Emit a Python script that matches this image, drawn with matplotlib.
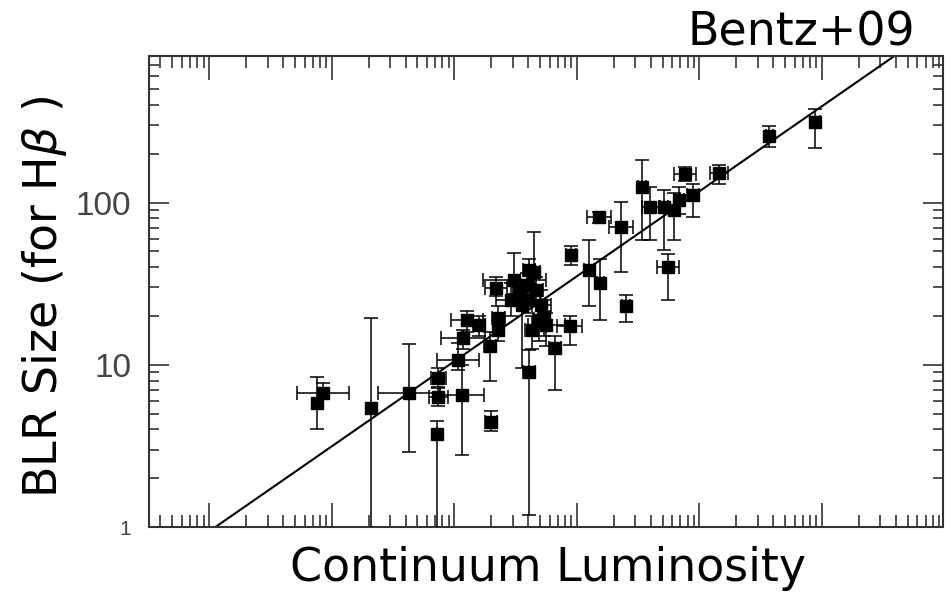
import numpy as np
import matplotlib
matplotlib.use("Agg")
import matplotlib.pyplot as plt
from matplotlib.ticker import FixedLocator, LogLocator, NullFormatter

# log10 of continuum luminosity, half width of x error (dex)
log_lum = [41.88, 41.93, 42.32, 42.63, 42.87, 42.87, 42.86, 43.06, 43.03, 43.07,
           43.10, 43.20, 43.29, 43.36, 43.34, 43.49, 43.65, 43.61, 43.82, 43.94,
           43.95, 44.10, 44.19, 44.18, 44.36, 44.40, 44.53, 44.60, 44.71, 44.79,
           44.83, 44.88, 44.95, 45.16, 44.74, 45.57, 45.94, 43.30, 43.46, 43.53,
           43.55, 43.60, 43.61, 43.67, 43.71, 43.73, 43.75, 43.69, 43.63, 43.59,
           43.36]
lum_err = [0.00, 0.21, 0.00, 0.25, 0.06, 0.08, 0.00, 0.18, 0.17, 0.18,
           0.13, 0.05, 0.05, 0.03, 0.09, 0.26, 0.05, 0.05, 0.05, 0.10,
           0.04, 0.04, 0.03, 0.10, 0.10, 0.03, 0.03, 0.07, 0.03, 0.03,
           0.04, 0.09, 0.05, 0.07, 0.09, 0.03, 0.04, 0.05, 0.12, 0.05,
           0.04, 0.10, 0.05, 0.05, 0.08, 0.05, 0.15, 0.05, 0.05, 0.05,
           0.05]
# BLR size and lower / upper bounds
blr = [5.8, 6.7, 5.4, 6.7, 8.3, 6.3, 3.75, 6.5, 10.7, 14.7,
       19.0, 17.7, 13.0, 16.5, 29.9, 33.4, 37.4, 9.0, 12.7, 17.4,
       47.7, 38.6, 32.0, 81.0, 71.0, 22.9, 125.0, 94.5, 94.5, 90.5,
       104.0, 149.0, 112.0, 153.0, 40.0, 256.0, 312.0, 4.45, 25.2, 28.0,
       23.4, 25.0, 38.6, 29.0, 23.4, 19.8, 17.7, 19.0, 16.4, 31.0,
       19.5]
blr_lo = [4.0, 6.2, 0.9, 2.9, 7.3, 5.6, 0.9, 2.8, 9.3, 12.5,
          16.0, 15.0, 8.0, 14.0, 26.5, 27.4, 30.0, 1.19, 7.0, 13.3,
          41.5, 23.0, 19.0, 75.0, 37.5, 18.4, 59.0, 59.0, 51.0, 59.0,
          85.0, 135.0, 82.0, 130.0, 25.0, 220.0, 218.0, 3.9, 20.0, 24.0,
          9.6, 21.0, 32.0, 24.0, 17.0, 15.0, 13.0, 14.0, 12.5, 26.0,
          16.0]
blr_hi = [8.4, 7.7, 19.5, 13.5, 9.5, 7.2, 4.5, 10.0, 13.7, 16.3,
          21.5, 20.0, 16.0, 19.0, 35.0, 49.0, 65.4, 12.4, 15.0, 20.0,
          54.0, 59.0, 45.0, 88.0, 101.0, 27.0, 184.0, 125.0, 120.0, 115.0,
          125.0, 165.0, 130.0, 170.0, 48.0, 298.0, 375.0, 5.2, 32.0, 33.0,
          28.0, 30.0, 45.0, 35.0, 29.0, 25.0, 21.0, 24.0, 20.0, 37.0,
          23.0]

# best fit: log R = slope * (log L - zero point)
fit_slope = 0.524
fit_zero = 41.05

log_lum = np.array(log_lum)
lum_err = np.array(lum_err)
blr = np.array(blr)
lum = 10 ** log_lum
xerr = [lum - 10 ** (log_lum - lum_err), 10 ** (log_lum + lum_err) - lum]
yerr = [blr - np.array(blr_lo), np.array(blr_hi) - blr]

fig = plt.figure(figsize=(9.5, 5.99), dpi=100)
ax = fig.add_axes([0.157, 0.120, 0.836, 0.7865])
ax.set_xscale("log")
ax.set_yscale("log")
ax.set_xlim(10 ** 40.51, 10 ** 46.99)
ax.set_ylim(1, 800)

xx = np.array(ax.get_xlim())
ax.plot(xx, 10 ** (fit_slope * (np.log10(xx) - fit_zero)), color="black", lw=1.5, zorder=2)

ax.errorbar(lum, blr, xerr=xerr, yerr=yerr, fmt="s", color="black", ms=8.5,
            elinewidth=1.1, capsize=5, capthick=1.1, zorder=3)

ax.xaxis.set_major_locator(FixedLocator([10.0 ** k for k in range(41, 47)]))
ax.xaxis.set_minor_locator(LogLocator(base=10, subs=np.arange(2, 10)))
ax.xaxis.set_major_formatter(NullFormatter())
ax.xaxis.set_minor_formatter(NullFormatter())
ax.set_yticks([1, 10, 100])
ax.set_yticklabels(["1", "10", "100"])
ax.yaxis.set_minor_locator(LogLocator(base=10, subs=np.arange(2, 10)))
ax.yaxis.set_minor_formatter(NullFormatter())

ax.tick_params(which="both", direction="in", top=True, right=True, color="#333333")
ax.tick_params(axis="x", which="major", length=17, width=1.2)
ax.tick_params(axis="x", which="minor", length=8.5, width=1.2)
ax.tick_params(axis="y", which="major", length=14.5, width=1.2, pad=13,
               labelsize=24, labelcolor="#444444")
ax.tick_params(axis="y", which="minor", length=7, width=1.2)
for lab in ax.get_yticklabels():
    lab.set_fontfamily("Liberation Sans")
    if lab.get_text() == "1":
        lab.set_fontsize(15)
for s in ax.spines.values():
    s.set_linewidth(1.5)
    s.set_color("#333333")

fig.text(0.963, 1 - 45 / 599, "Bentz+09", ha="right", va="baseline", fontsize=33)
fig.text(0.577, 1 - 581 / 599, "Continuum Luminosity", ha="center", va="baseline", fontsize=33)
fig.text(0.047, 0.505, r"BLR Size (for H$\beta$ )", rotation=90, ha="center", va="center", fontsize=33)

fig.savefig("out.png", dpi=100)
